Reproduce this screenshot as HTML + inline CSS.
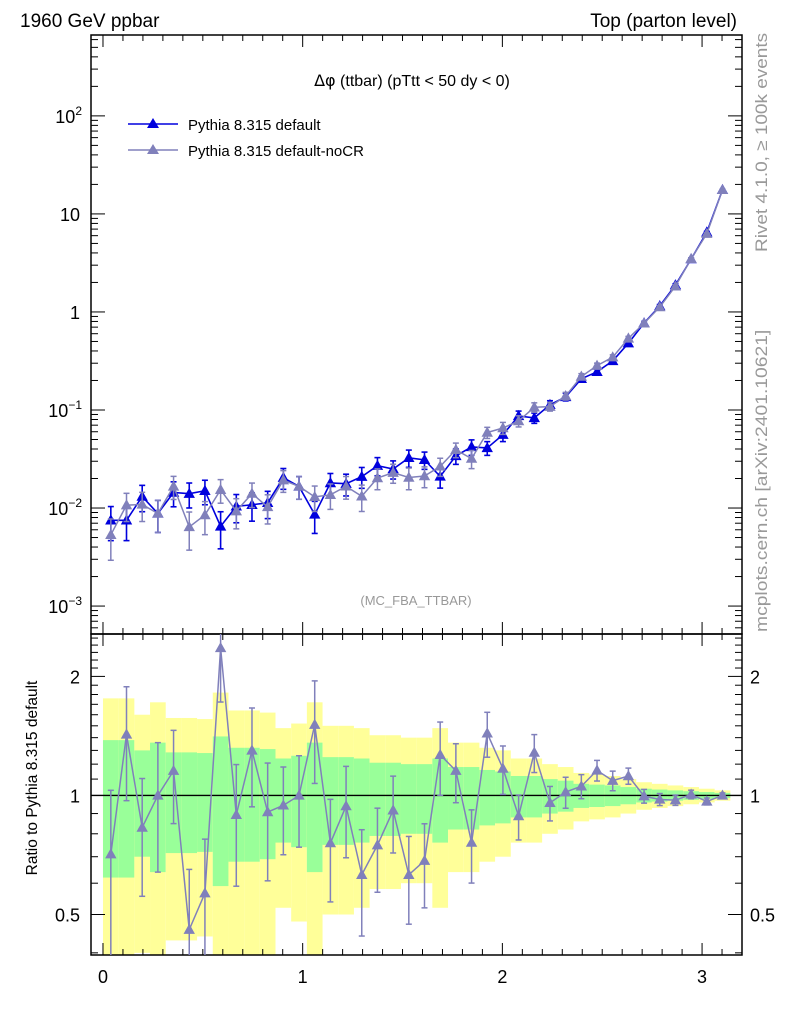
<!DOCTYPE html>
<html><head><meta charset="utf-8">
<style>
html,body{margin:0;padding:0;background:#fff;}
svg{display:block;font-family:"Liberation Sans",sans-serif;}
</style></head>
<body>
<svg id="chart" width="786" height="1024" viewBox="0 0 786 1024" xmlns="http://www.w3.org/2000/svg">
<g id="bands"></g>
<g id="grid"></g>
<g id="series"></g>
<text x="20" y="27" font-size="19">1960 GeV ppbar</text>
<text x="737" y="27" font-size="19" text-anchor="end">Top (parton level)</text>
<text x="412" y="86" font-size="16" text-anchor="middle"><tspan font-family="DejaVu Sans,sans-serif">Δφ</tspan> (ttbar) (pTtt &lt; 50 dy &lt; 0)</text>
<g>
 <g>
  <line x1="128" y1="124" x2="178" y2="124" stroke="#0000dd" stroke-width="1.5"/>
  <polygon points="153,118 147,128 159,128" fill="#0000dd"/>
  <text x="188" y="130" font-size="15">Pythia 8.315 default</text>
 </g>
 <g>
  <line x1="128" y1="150" x2="178" y2="150" stroke="#8080bb" stroke-width="1.5"/>
  <polygon points="153,144 147,154 159,154" fill="#8080bb"/>
  <text x="188" y="156" font-size="15">Pythia 8.315 default-noCR</text>
 </g>
</g>
<text x="416" y="605" font-size="13" fill="#999" text-anchor="middle">(MC_FBA_TTBAR)</text>
<text transform="translate(767,252) rotate(-90) scale(1.15,1)" font-size="16.5" fill="#999">Rivet 4.1.0, ≥ 100k events</text>
<text transform="translate(767,632) rotate(-90) scale(1.17,1)" font-size="16.5" fill="#999">mcplots.cern.ch [arXiv:2401.10621]</text>
<text transform="translate(37,778) rotate(-90)" font-size="15.5" text-anchor="middle">Ratio to Pythia 8.315 default</text>
</svg>
<script>
const binCount = 40;
const blueValues = [0.0075,0.0075,0.0131,0.0088,0.0144,0.0140,0.0150,0.0065,0.0104,0.0108,0.0113,0.0204,0.0166,0.0086,0.0180,0.0177,0.0209,0.0270,0.0250,0.0325,0.0310,0.0210,0.0340,0.0420,0.0410,0.0560,0.0870,0.0830,0.113,0.136,0.208,0.245,0.317,0.48,0.77,1.15,1.88,3.46,6.5,17.6];
const greyValues = [0.00533,0.0107,0.01087,0.0088,0.01663,0.00641,0.00849,0.01534,0.00929,0.01404,0.01026,0.01926,0.0166,0.01299,0.01364,0.01664,0.01317,0.02022,0.02293,0.02048,0.0212,0.02661,0.03927,0.03192,0.05888,0.06552,0.07717,0.10657,0.10825,0.13872,0.21944,0.28347,0.34553,0.5376,0.76692,1.12355,1.82924,3.48076,6.279,17.6];
const blueRelErr = [0.38,0.38,0.30,0.36,0.285,0.285,0.28,0.41,0.32,0.32,0.31,0.24,0.26,0.36,0.25,0.25,0.24,0.21,0.21,0.2,0.2,0.24,0.18,0.18,0.16,0.15,0.12,0.12,0.10,0.09,0.07,0.065,0.06,0.05,0.04,0.035,0.03,0.025,0.02,0.015];
const greyRelErr = [0.45,0.32,0.33,0.36,0.265,0.42,0.37,0.27,0.34,0.28,0.33,0.25,0.26,0.29,0.29,0.26,0.30,0.24,0.22,0.25,0.24,0.21,0.17,0.21,0.13,0.14,0.13,0.11,0.10,0.09,0.07,0.06,0.057,0.047,0.04,0.035,0.03,0.025,0.02,0.015];
const xTickLabels = ["0","1","2","3"];
const mainTickLabels = [["10","−3"],["10","−2"],["10","−1"],["1",""],["10",""],["10","2"]];
const ratioTickLabels = ["0.5","1","2"];

const NS="http://www.w3.org/2000/svg";
const L=91,R=742,T=35,MB=634,RT=634,RB=955;
const xMin=-0.06,xMax=3.2;
function X(v){return L+(v-xMin)/(xMax-xMin)*(R-L);}
const lyTop=2.825,lyBot=-3.285;
function Y(v){return T+(lyTop-Math.log10(v))/(lyTop-lyBot)*(MB-T);}
const lrTop=Math.log2(2.56),lrBot=Math.log2(0.395);
function YR(v){return RT+(lrTop-Math.log2(Math.max(v,1e-3)))/(lrTop-lrBot)*(RB-RT);}
function mk(tag,attrs,parent){const e=document.createElementNS(NS,tag);for(const k in attrs)e.setAttribute(k,attrs[k]);parent.appendChild(e);return e;}
const bw=Math.PI/binCount;
const bands=document.getElementById('bands'),grid=document.getElementById('grid'),series=document.getElementById('series');

for(let i=0;i<binCount;i++){
  const x0=X(i*bw),x1=X((i+1)*bw),s=blueRelErr[i];
  const y1=mk('rect',{x:x0,y:YR(1+2*s),width:x1-x0,height:Math.min(YR(1-2*s),RB)-YR(1+2*s),fill:'#ffff99'},bands);
  
  
  const g1=mk('rect',{x:x0,y:YR(1+s),width:x1-x0,height:YR(1-s)-YR(1+s),fill:'#99ff99'},bands);
  
  
}
mk('rect',{x:L,y:T,width:R-L,height:MB-T,fill:'none',stroke:'#000','stroke-width':1.5},grid);
mk('rect',{x:L,y:RT,width:R-L,height:RB-RT,fill:'none',stroke:'#000','stroke-width':1.5},grid);
mk('line',{x1:L,y1:YR(1),x2:R,y2:YR(1),stroke:'#000','stroke-width':1.3},grid);
for(let k=0;k<=32;k++){
  const v=k*0.1;if(v>xMax)break;const x=X(v);const major=k%10===0;const len=major?12:6;
  mk('line',{x1:x,y1:RB,x2:x,y2:RB-len,stroke:'#000'},grid);
  mk('line',{x1:x,y1:RT,x2:x,y2:RT+len,stroke:'#000'},grid);
  mk('line',{x1:x,y1:MB,x2:x,y2:MB-len,stroke:'#000'},grid);
  mk('line',{x1:x,y1:T,x2:x,y2:T+len,stroke:'#000'},grid);
}
xTickLabels.forEach((t,i)=>{const e=mk('text',{x:X(i),y:983,'font-size':18,'text-anchor':'middle'},grid);e.textContent=t;
 
 });
for(let d=-4;d<=2;d++){for(let m=1;m<=9;m++){const v=m*Math.pow(10,d);const lv=Math.log10(v);if(lv>lyTop||lv<lyBot)continue;const y=Y(v);const len=m===1?14:7;
 mk('line',{x1:L,y1:y,x2:L+len,y2:y,stroke:'#000'},grid);mk('line',{x1:R,y1:y,x2:R-len,y2:y,stroke:'#000'},grid);}}
mainTickLabels.forEach((t,i)=>{const y=Y(Math.pow(10,i-3));const e=mk('text',{x:t[1]?63:80,y:y+7,'font-size':18,'text-anchor':t[1]?'middle':'end'},grid);
 
 
 if(t[1]){e.setAttribute('x',82);e.setAttribute('text-anchor','end');e.textContent='';const a=mk('tspan',{},e);a.textContent=t[0];const b=mk('tspan',{'font-size':12,dy:-8},e);b.textContent=t[1];}
 else e.textContent=t[0];});
for(let k=4;k<=25;k++){const v=k/10;if(Math.log2(v)>lrTop||Math.log2(v)<lrBot)continue;const y=YR(v);const major=(k===5||k===10||k===20);const len=major?14:7;
 mk('line',{x1:L,y1:y,x2:L+len,y2:y,stroke:'#000'},grid);mk('line',{x1:R,y1:y,x2:R-len,y2:y,stroke:'#000'},grid);}
ratioTickLabels.forEach(t=>{const y=YR(parseFloat(t));
 const e=mk('text',{x:80,y:y+7,'font-size':18,'text-anchor':'end'},grid);e.textContent=t;
 
 
 const e2=mk('text',{x:750,y:y+7,'font-size':18},grid);e2.textContent=t;
 
 });
function tri(x,y,col,par,s){return mk('polygon',{points:`${x},${y-s} ${x-s*0.95},${y+s*0.7} ${x+s*0.95},${y+s*0.7}`,fill:col},par);}
function drawMain(vals,errs,col,name,lw){
  const g=mk('g',{},series);
  
  
  let d='';
  vals.forEach((v,i)=>{const x=X((i+0.5)*bw),y=Y(v);d+=(i?'L':'M')+x+','+y;});
  mk('path',{d:d,fill:'none',stroke:col,'stroke-width':lw},g);
  vals.forEach((v,i)=>{const x=X((i+0.5)*bw);const yt=Y(v*(1+errs[i])),yb=Y(v*(1-errs[i]));
    mk('line',{x1:x,y1:yt,x2:x,y2:yb,stroke:col,'stroke-width':lw},g);
    mk('line',{x1:x-3,y1:yt,x2:x+3,y2:yt,stroke:col,'stroke-width':lw},g);
    mk('line',{x1:x-3,y1:yb,x2:x+3,y2:yb,stroke:col,'stroke-width':lw},g);
    const p=tri(x,Y(v),col,g,6);
    
    });
}
drawMain(blueValues,blueRelErr,'#0000dd','series-default',1.6);
drawMain(greyValues,greyRelErr,'#8080bb','series-default-nocr',1.5);
const rg=mk('g',{},series);


let rd='';
greyValues.forEach((v,i)=>{const r=v/blueValues[i];const x=X((i+0.5)*bw);rd+=(i?'L':'M')+x+','+YR(r);});
mk('path',{d:rd,fill:'none',stroke:'#8080bb','stroke-width':1.5},rg);
greyValues.forEach((v,i)=>{const r=v/blueValues[i];const x=X((i+0.5)*bw);const e=r*greyRelErr[i];
  const yt=Math.max(YR(r+e),RT),yb=Math.min(YR(r-e),RB);
  mk('line',{x1:x,y1:yt,x2:x,y2:yb,stroke:'#8080bb','stroke-width':1.5},rg);
  if(YR(r+e)>RT)mk('line',{x1:x-3,y1:yt,x2:x+3,y2:yt,stroke:'#8080bb','stroke-width':1.5},rg);
  if(YR(r-e)<RB)mk('line',{x1:x-3,y1:yb,x2:x+3,y2:yb,stroke:'#8080bb','stroke-width':1.5},rg);
  const p=tri(x,YR(r),'#8080bb',rg,6);
  
  });
</script>
</body></html>
